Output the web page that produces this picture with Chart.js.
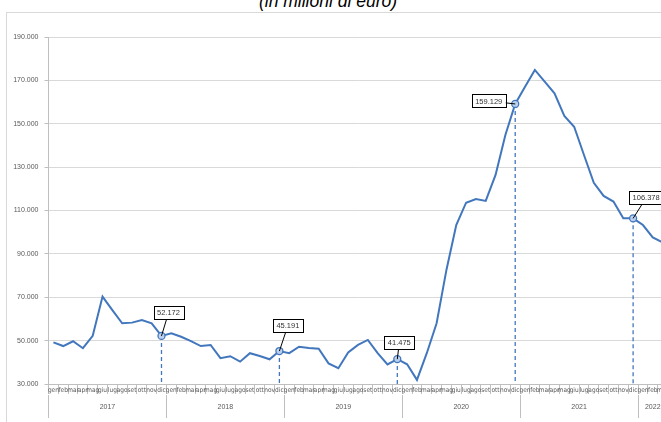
<!DOCTYPE html>
<html>
<head>
<meta charset="utf-8">
<script src="https://cdn.jsdelivr.net/npm/chart.js@4.4.1/dist/chart.umd.min.js"></script>
<style>
    html, body { margin: 0; padding: 0; background: #fff; overflow: hidden; width: 661px; height: 422px; }
    #title { position: absolute; left: 228px; top: -7px; width: 200px; text-align: center; font: italic 17.5px 'Liberation Sans', Arial, sans-serif; line-height: 17px; color: #000; white-space: nowrap; }
    #frame { position: absolute; left: 6px; top: 12px; width: 720px; height: 420px; border-top: 1px solid #d9d9d9; border-left: 1px solid #d9d9d9; }
    #wrap { position: absolute; left: 0; top: 12px; width: 675px; height: 410px; }
</style>
</head>
<body>
<div id="title">(in milioni di euro)</div>
<div id="frame"></div>
<div id="wrap"><canvas id="balanceChart"></canvas></div>
<script>
// Monthly values, millions of euro
const months = ["gen", "feb", "mar", "apr", "mag", "giu", "lug", "ago", "set", "ott", "nov", "dic"];
const years = ["2017", "2018", "2019", "2020", "2021", "2022"];

const values2017 = [49200, 47500, 49700, 46500, 52200, 70300, 64100, 58000, 58300, 59500, 58000, 52172];
const values2018 = [53400, 51800, 49800, 47500, 48000, 41900, 42800, 40300, 44200, 42900, 41400, 45191];
const values2019 = [44200, 47200, 46600, 46300, 39500, 37300, 44500, 48000, 50300, 44200, 39000, 41475];
const values2020 = [39100, 31900, 44200, 58000, 82600, 103300, 113600, 115300, 114400, 126400, 144800, 159129];
const values2021 = [167100, 174800, 169400, 164000, 153600, 148600, 135600, 122800, 116700, 114100, 106400, 106378];
const values2022 = [103300, 97600, 95300];

const yTicks = [30000, 50000, 70000, 90000, 110000, 130000, 150000, 170000, 190000];

// points with a label (december of each year)
const highlightIndex = [11, 23, 35, 47, 59];
// label box offsets from the point (px)
const labelOffsets = [[7, -23], [8.5, -25.5], [2, -16.5], [-26.5, -3], [13, -20.5]];

const values = [].concat(values2017, values2018, values2019, values2020, values2021, values2022);
const monthLabels = values.map((v, i) => months[i % 12]);
const lineColor = "#4277bd";
const maxX = values.length - 0.5;

function fmt(v) {
    return String(Math.round(v)).replace(/\B(?=(\d{3})+(?!\d))/g, ".");
}

// year axis: boundaries + middle of each year
const yearMid = {};
const boundaries = new Set();
years.forEach((yr, k) => {
    const start = k * 12 - 0.5;
    const end = Math.min(start + 12, maxX);
    boundaries.add(start);
    yearMid[(start + end) / 2] = yr;
});
boundaries.add(maxX);

const markerPlugin = {
    id: "markers",
    beforeDatasetsDraw(chart) {
        const { ctx, chartArea, scales } = chart;
        ctx.save();
        ctx.strokeStyle = lineColor;
        ctx.lineWidth = 1.3;
        ctx.setLineDash([4, 3]);
        highlightIndex.forEach(i => {
            const px = scales.x.getPixelForValue(i);
            const py = scales.y.getPixelForValue(values[i]);
            ctx.beginPath();
            ctx.moveTo(px, py);
            ctx.lineTo(px, chartArea.bottom);
            ctx.stroke();
        });
        ctx.restore();
    },
    afterDatasetsDraw(chart) {
        const { ctx, scales } = chart;
        ctx.save();
        ctx.font = "7.5px 'Liberation Sans', Arial, sans-serif";
        ctx.textAlign = "center";
        ctx.textBaseline = "middle";
        highlightIndex.forEach((i, n) => {
            const px = scales.x.getPixelForValue(i);
            const py = scales.y.getPixelForValue(values[i]);
            const cx = px + labelOffsets[n][0];
            const cy = py + labelOffsets[n][1];
            const text = fmt(values[i]);
            const w = ctx.measureText(text).width + 7;
            const h = 13;
            // leader line
            ctx.strokeStyle = "#000";
            ctx.lineWidth = 1;
            ctx.beginPath();
            ctx.moveTo(px, py);
            ctx.lineTo(cx, cy);
            ctx.stroke();
            // box
            ctx.fillStyle = "#fff";
            ctx.fillRect(cx - w / 2, cy - h / 2, w, h);
            ctx.strokeRect(Math.round(cx - w / 2) + 0.5, Math.round(cy - h / 2) + 0.5, Math.round(w), h);
            ctx.fillStyle = "#333";
            ctx.fillText(text, cx, cy + 0.5);
        });
        ctx.restore();
    }
};

const ctx = document.getElementById("balanceChart").getContext("2d");
new Chart(ctx, {
    type: "line",
    data: {
        labels: monthLabels,
        datasets: [{
            data: values,
            borderColor: lineColor,
            borderWidth: 2,
            tension: 0,
            fill: false,
            pointRadius: c => highlightIndex.includes(c.dataIndex) ? 3.5 : 0,
            pointHoverRadius: 0,
            pointBackgroundColor: "rgba(190,210,238,0.95)",
            pointBorderColor: lineColor,
            pointBorderWidth: 1.3
        }]
    },
    options: {
        responsive: true,
        maintainAspectRatio: false,
        animation: false,
        layout: { padding: { top: 25, right: 7.5, bottom: 0, left: 0 } },
        plugins: {
            legend: { display: false },
            tooltip: { enabled: false }
        },
        scales: {
            x: {
                type: "category",
                offset: true,
                weight: 0,
                grid: { offset: true, drawOnChartArea: false, tickLength: 10, color: "#bfbfbf" },
                border: { color: "#bfbfbf" },
                ticks: {
                    autoSkip: false, maxRotation: 0, minRotation: 0, padding: -8,
                    color: "#595959",
                    font: { size: 6.5, family: "'Liberation Sans Narrow', 'DejaVu Sans Condensed', 'Liberation Sans', Arial" }
                },
                afterFit: s => { s.height = 11; }
            },
            xYear: {
                type: "linear",
                position: "bottom",
                weight: 1,
                min: -0.5,
                max: maxX,
                grid: {
                    drawOnChartArea: false, tickLength: 23,
                    tickColor: c => (c.tick && boundaries.has(c.tick.value)) ? "#bfbfbf" : "rgba(0,0,0,0)"
                },
                border: { display: false },
                afterBuildTicks: axis => {
                    const t = [];
                    boundaries.forEach(b => t.push({ value: b }));
                    Object.keys(yearMid).forEach(m => t.push({ value: Number(m) }));
                    t.sort((a, b) => a.value - b.value);
                    axis.ticks = t;
                },
                ticks: {
                    autoSkip: false, maxRotation: 0, minRotation: 0, padding: -15,
                    color: "#595959",
                    font: { size: 7, family: "'Liberation Sans', Arial" },
                    callback: v => yearMid[v] || ""
                },
                afterFit: s => { s.height = 27; }
            },
            y: {
                min: yTicks[0],
                max: yTicks[yTicks.length - 1],
                afterBuildTicks: axis => { axis.ticks = yTicks.map(v => ({ value: v })); },
                grid: { color: "#d9d9d9", tickLength: 4, tickColor: "#bfbfbf" },
                border: { color: "#bfbfbf" },
                ticks: {
                    padding: 6,
                    color: "#595959",
                    font: { size: 7, family: "'Liberation Sans', Arial" },
                    callback: v => fmt(v)
                },
                afterFit: s => { s.width = 48.5; }
            }
        }
    },
    plugins: [markerPlugin]
});
</script>
</body>
</html>
